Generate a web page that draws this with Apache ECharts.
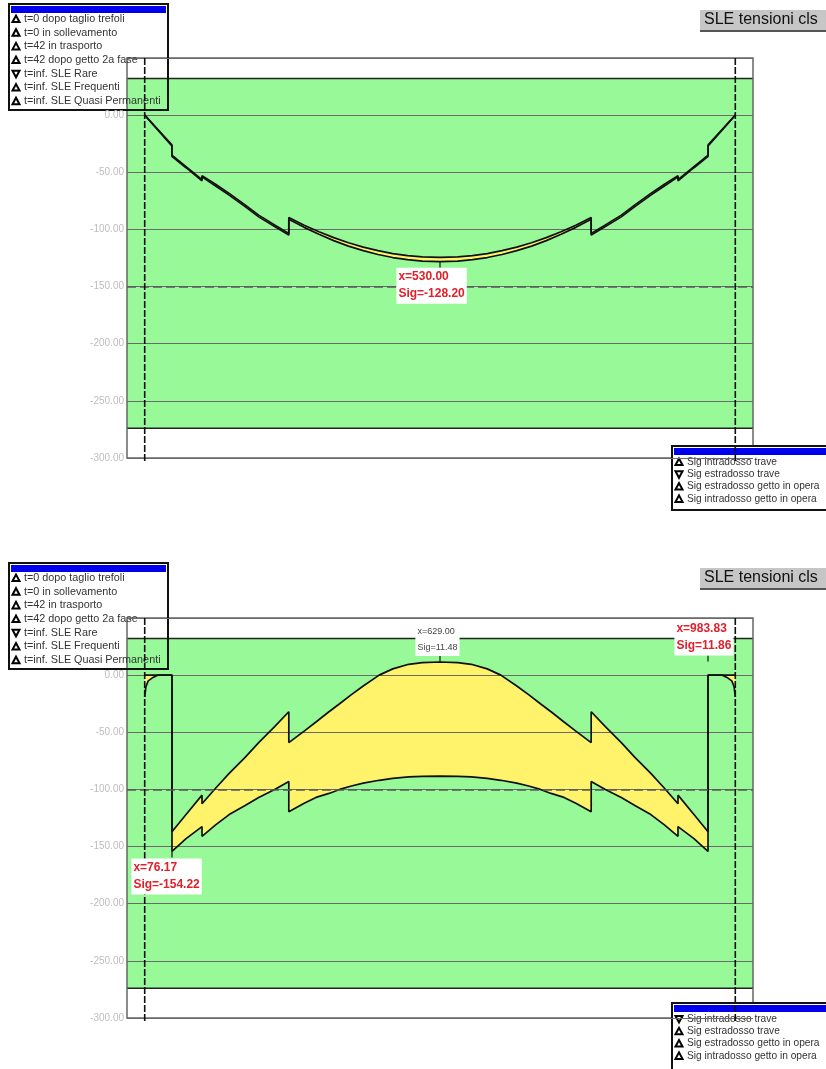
<!DOCTYPE html>
<html>
<head>
<meta charset="utf-8">
<script src="https://cdn.jsdelivr.net/npm/echarts@6/dist/echarts.min.js"></script>
<style>
html, body { margin: 0; padding: 0; background: #fff; }
#main { width: 826px; height: 1069px; }
</style>
</head>
<body>
<div id="main"></div>
<script>
// grafico 1: ascisse trave e tensioni (due curve quasi sovrapposte)
var xTop = [30, 76, 76, 100, 127, 127, 150, 173, 200, 223, 250, 274, 274, 300, 325, 350, 375, 400, 425, 450, 475, 500, 530,
  560, 585, 610, 635, 660, 685, 710, 735, 760, 786, 786, 810, 837, 860, 887, 910, 933, 933, 960, 984, 984, 1030];
var sigTopLow = [0, -27, -36, -46, -57.5, -54, -62, -70, -80, -89, -97.5, -105, -91, -98.2, -104.3, -109.8, -114.6, -118.6, -121.9, -124.6, -126.5, -127.7, -128.2,
  -127.7, -126.5, -124.6, -121.9, -118.6, -114.6, -109.8, -104.3, -98.2, -91, -105, -97.5, -89, -80, -70, -62, -54, -57.5, -46, -36, -27, 0];
var sigTopUp = [0, -26, -35, -45, -56.5, -53, -60.5, -68.5, -78.5, -87.5, -96, -103.5, -89.5, -96.3, -102.1, -107.2, -111.7, -115.5, -118.6, -121.1, -122.9, -124, -124.5,
  -124, -122.9, -121.1, -118.6, -115.5, -111.7, -107.2, -102.1, -96.3, -89.5, -103.5, -96, -87.5, -78.5, -68.5, -60.5, -53, -56.5, -45, -35, -26, 0];

// grafico 2
var xBot = [30, 32, 36, 44, 52, 76.17, 76.17, 100, 127, 127, 150, 173, 200, 223, 250, 274, 274, 300, 320, 342, 360, 380, 400, 427, 450, 477, 500, 530,
  560, 583, 610, 633, 660, 680, 700, 718, 740, 760, 786, 786, 810, 837, 860, 887, 910, 933, 933, 960, 983.83, 983.83, 1008, 1016, 1024, 1028, 1030];
var sigBotUp = [0, 0, 0, 0, 0, 0, -137, -122, -105, -112.5, -99, -86, -72, -59, -45, -32, -59, -49, -41, -32, -25, -17, -9.5, 0, 5.5, 9.5, 11, 11.48,
  11, 9.5, 5.5, 0, -9.5, -17, -25, -32, -41, -49, -59, -32, -45, -59, -72, -86, -99, -112.5, -105, -122, -137, 0, 0, 0, 0, 0, 0];
var sigBotLow = [-19, -10, -5, -2, 0, 0, -154.22, -143, -132.5, -141, -131, -122, -114, -107, -100, -93, -119.6, -112, -107, -103.5, -100, -97, -94.5, -92, -90.3, -89, -88.5, -88.4,
  -88.5, -89, -90.3, -92, -94.5, -97, -100, -103.5, -107, -112, -119.6, -93, -100, -107, -114, -122, -131, -141, -132.5, -143, -154.22, 0, 0, -2, -5, -10, -19];

var yTicks = [0, -50, -100, -150, -200, -250, -300];
var bandLimits = [-274, 32];      // fascia verde
var supports = [30, 1030];        // linee tratteggiate
var dashedLevels = [-150, -100];  // linea tratteggiata per grafico

var loadCases = ['t=0 dopo taglio trefoli', 't=0 in sollevamento', 't=42 in trasporto',
  't=42 dopo getto 2a fase', 't=inf. SLE Rare', 't=inf. SLE Frequenti', 't=inf. SLE Quasi Permanenti'];
var caseDown = [0, 0, 0, 0, 1, 0, 0];
var sigNames = ['Sig intradosso trave', 'Sig estradosso trave', 'Sig estradosso getto in opera', 'Sig intradosso getto in opera'];
var sigDownTop = [0, 1, 0, 0];
var sigDownBot = [1, 0, 0, 0];

var annTopPos = [[530, -128.2]];
var annTopText = [['x=530.00', 'Sig=-128.20']];
var annBotPos = [[530, 11.48], [983.83, 11.86], [76.17, -154.22]];
var annBotText = [['x=629.00', 'Sig=11.48'], ['x=983.83', 'Sig=11.86'], ['x=76.17', 'Sig=-154.22']];

var FONT = 'Liberation Sans, Arial, sans-serif';
var chart = echarts.init(document.getElementById('main'));

function zip(xs, ys) {
  return xs.map(function (x, i) { return [x, ys[i]]; });
}

function greenBand(gi) {
  return {
    type: 'custom', xAxisIndex: gi, yAxisIndex: gi, z: -2, silent: true,
    data: [[0, 0]],
    renderItem: function (params, api) {
      var a = api.coord([0, bandLimits[1]]);
      var b = api.coord([1060, bandLimits[0]]);
      return {
        type: 'group', children: [
          { type: 'rect', shape: { x: a[0], y: a[1], width: b[0] - a[0], height: b[1] - a[1] }, style: { fill: '#98f998' } },
          { type: 'line', shape: { x1: a[0], y1: a[1], x2: b[0], y2: a[1] }, style: { stroke: '#222', lineWidth: 1.5 } },
          { type: 'line', shape: { x1: a[0], y1: b[1], x2: b[0], y2: b[1] }, style: { stroke: '#222', lineWidth: 1.5 } }
        ]
      };
    }
  };
}

function envelope(gi, xs, up, low) {
  return {
    type: 'custom', xAxisIndex: gi, yAxisIndex: gi, z: -1, silent: true,
    data: [[0, 0]],
    renderItem: function (params, api) {
      var pts = [];
      for (var i = 0; i < xs.length; i++) pts.push(api.coord([xs[i], up[i]]));
      for (var j = xs.length - 1; j >= 0; j--) pts.push(api.coord([xs[j], low[j]]));
      return { type: 'polygon', shape: { points: pts }, style: { fill: '#fff36b' } };
    }
  };
}

function supportLines(gi) {
  return {
    type: 'custom', xAxisIndex: gi, yAxisIndex: gi, z: 6, silent: true,
    data: supports.map(function (s) { return [s, 0]; }),
    renderItem: function (params, api) {
      var a = api.coord([api.value(0), 50]);
      var b = api.coord([api.value(0), -300]);
      return { type: 'line', shape: { x1: a[0], y1: a[1], x2: b[0], y2: b[1] + 5 },
        style: { stroke: '#111', lineWidth: 1.6, lineDash: [7, 2] } };
    }
  };
}

function curve(gi, xs, ys, lvl) {
  var s = {
    type: 'line', xAxisIndex: gi, yAxisIndex: gi, z: 4, silent: true,
    showSymbol: false, symbol: 'none', animation: false,
    lineStyle: { color: '#111', width: 1.7 },
    data: zip(xs, ys)
  };
  if (lvl !== undefined) {
    s.markLine = { symbol: 'none', silent: true, label: { show: false }, animation: false,
      lineStyle: { color: '#5a5a5a', type: [9, 4], width: 1.5 }, data: [{ yAxis: lvl }] };
  }
  return s;
}

// annotazioni: offset tacca, posizione etichetta, stile
function annotations(gi, pos, texts, conf) {
  return {
    type: 'scatter', xAxisIndex: gi, yAxisIndex: gi, z: 8, silent: true, animation: false,
    itemStyle: { opacity: 1 },
    data: pos.map(function (p, i) {
      var c = conf[i];
      return {
        value: p,
        symbol: 'rect', symbolSize: [1.2, 6], symbolOffset: [0, c.off],
        itemStyle: { color: '#111', opacity: 1 },
        label: {
          show: true, position: c.lab, opacity: 1,
          formatter: texts[i].join('\n'),
          backgroundColor: '#ffffff', padding: [1, 2],
          fontFamily: FONT, fontSize: c.red ? 12 : 9, fontWeight: c.red ? 'bold' : 'normal',
          lineHeight: c.red ? 17 : 16, color: c.red ? '#e0202a' : '#444'
        }
      };
    })
  };
}

function gridOf(top) {
  return { left: 127, right: 73, top: top, height: 400, show: true, borderColor: '#666', borderWidth: 1.5, backgroundColor: 'transparent' };
}
function xAx(gi) {
  return { type: 'value', gridIndex: gi, min: 0, max: 1060, axisLine: { show: false }, axisTick: { show: false },
    axisLabel: { show: false }, splitLine: { show: false } };
}
function yAx(gi) {
  return { type: 'value', gridIndex: gi, min: -300, max: 50, interval: 50,
    axisLine: { show: false }, axisTick: { show: false },
    axisLabel: { color: '#bdbdbd', fontFamily: FONT, fontSize: 10, margin: 3,
      formatter: function (v) { return yTicks.indexOf(v) >= 0 ? v.toFixed(2) : ''; } },
    splitLine: { show: true, lineStyle: { color: '#6a6a6a', width: 1.2, opacity: 1 } } };
}

function tri(cx, cy, down) {
  var pts = down ? [[cx - 3.5, cy - 3], [cx + 3.5, cy - 3], [cx, cy + 3.5]]
                 : [[cx - 3.5, cy + 3], [cx + 3.5, cy + 3], [cx, cy - 3.5]];
  return { type: 'polygon', shape: { points: pts }, style: { fill: '#fff', stroke: '#000', lineWidth: 2 } };
}

function legendBox(x, y, w, h, items, downs, row0, step, fs, filled) {
  var ch = [
    { type: 'rect', shape: { x: x, y: y, width: w, height: h }, style: { fill: filled ? '#fff' : 'transparent', stroke: '#111', lineWidth: 2 } },
    { type: 'rect', shape: { x: x + 2, y: y + 2, width: w - 4, height: 7 }, style: { fill: '#0000ee' } }
  ];
  items.forEach(function (t, i) {
    var cy = y + row0 + i * step;
    ch.push(tri(x + 7, cy, downs[i]));
    ch.push({ type: 'text', x: x + 15, y: cy, style: { text: t, fill: '#333', font: fs + 'px ' + FONT, verticalAlign: 'middle' } });
  });
  return { type: 'group', z: 20, children: ch };
}

function titleBox(y) {
  return { type: 'group', z: 20, children: [
    { type: 'rect', shape: { x: 700, y: y, width: 140, height: 20 }, style: { fill: '#c6c6c6', shadowColor: '#555', shadowOffsetY: 2, shadowBlur: 0 } },
    { type: 'text', x: 704, y: y + 10, style: { text: 'SLE tensioni cls', fill: '#111', font: '16px ' + FONT, verticalAlign: 'middle' } }
  ] };
}

var OFF = 560;

chart.setOption({
  animation: false,
  grid: [gridOf(58), gridOf(58 + OFF)],
  xAxis: [xAx(0), xAx(1)],
  yAxis: [yAx(0), yAx(1)],
  series: [
    greenBand(0), greenBand(1),
    envelope(0, xTop, sigTopUp, sigTopLow),
    envelope(1, xBot, sigBotUp, sigBotLow),
    curve(0, xTop, sigTopUp, dashedLevels[0]), curve(0, xTop, sigTopLow),
    curve(1, xBot, sigBotUp, dashedLevels[1]), curve(1, xBot, sigBotLow),
    supportLines(0), supportLines(1),
    annotations(0, annTopPos, annTopText, [{ off: 3, lab: [-43, 6], red: true }]),
    annotations(1, annBotPos, annBotText, [
      { off: -3, lab: [-24, -34], red: false },
      { off: -3, lab: [-33, -36], red: true },
      { off: 3, lab: [-40, 7], red: true }
    ])
  ],
  graphic: [
    legendBox(9, 4, 159, 106, loadCases, caseDown, 15, 13.7, 10.8, false),
    legendBox(9, 4 + OFF - 1, 159, 106, loadCases, caseDown, 15, 13.7, 10.8, false),
    legendBox(672, 446, 160, 64, sigNames, sigDownTop, 16, 12.3, 10.2, true),
    legendBox(672, 446 + OFF - 3, 160, 70, sigNames, sigDownBot, 16, 12.3, 10.2, true),
    titleBox(10), titleBox(10 + OFF - 2)
  ]
});
</script>
</body>
</html>
